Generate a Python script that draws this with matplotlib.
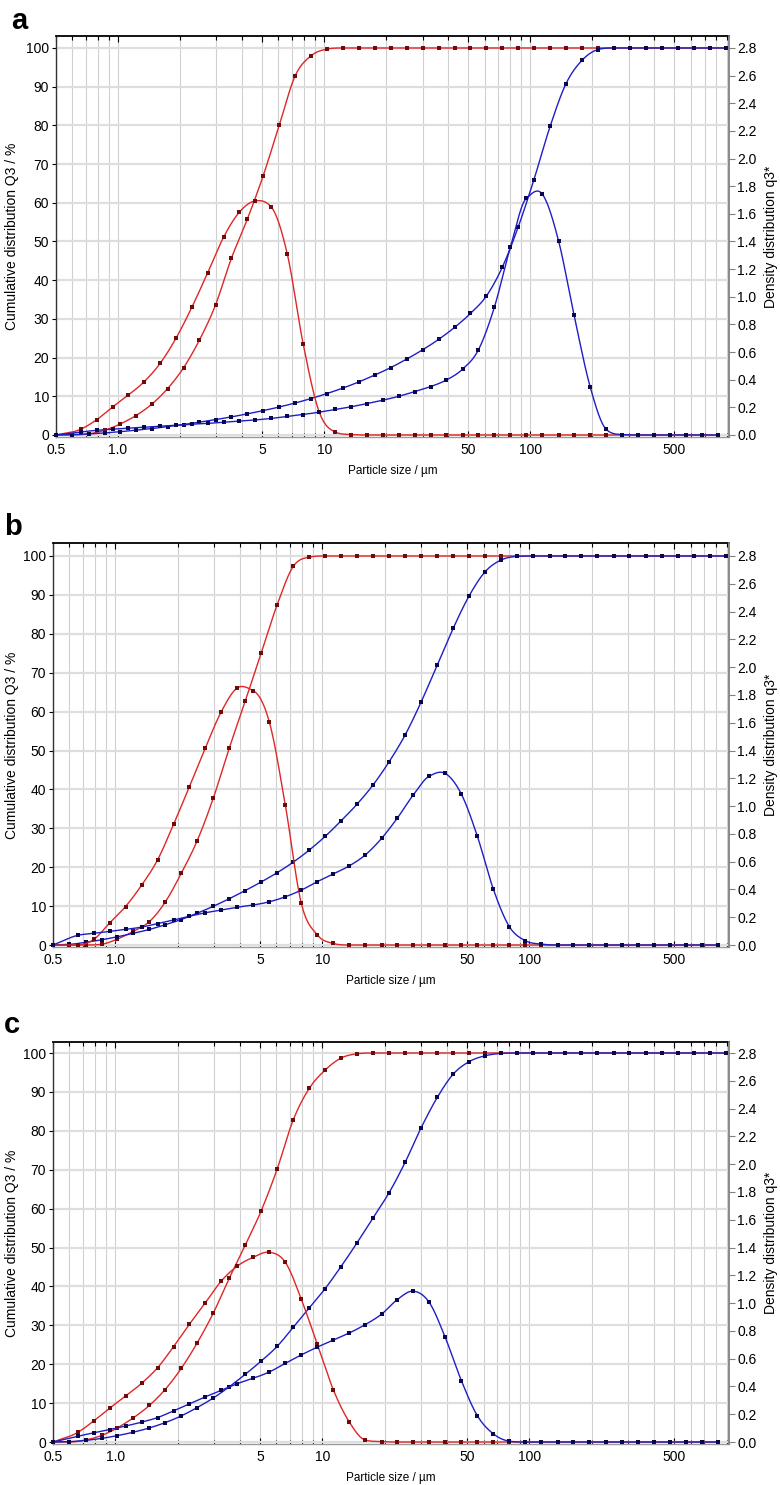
import numpy as np
import matplotlib
matplotlib.use("Agg")
import matplotlib.pyplot as plt
from matplotlib.ticker import FixedLocator, FixedFormatter, NullFormatter

plt.rcParams['font.family'] = ['Liberation Sans', 'DejaVu Sans']

# ---------------- data ----------------
# upper class limits (cumulative Q3) and class centres (density q3*), in µm
size_Q3 = [0.5, 0.6, 0.72, 0.86, 1.02, 1.22, 1.46, 1.74, 2.08, 2.48,
           2.97, 3.55, 4.24, 5.06, 6.05, 7.23, 8.64, 10.3, 12.3, 14.7,
           17.6, 21.0, 25.1, 30.0, 35.9, 42.9, 51.2, 61.2, 73.2, 87.4,
           104, 125, 149, 178, 213, 255, 304, 364, 435, 519,
           621, 742, 886]
size_q3 = [0.5, 0.66, 0.79, 0.94, 1.12, 1.34, 1.60, 1.91, 2.28, 2.72,
           3.25, 3.88, 4.64, 5.54, 6.62, 7.91, 9.45, 11.3, 13.5, 16.1,
           19.3, 23.0, 27.5, 32.8, 39.2, 46.9, 56.0, 66.9, 80.0, 95.6,
           114, 137, 163, 195, 233, 279, 333, 398, 475, 568,
           679, 811]

# panel a
a_red_Q3 = [0, 0, 0.3, 1.2, 2.8, 5.0, 8.0, 12.0, 17.4, 24.5,
            33.6, 45.7, 55.8, 67.0, 80.0, 92.8, 98.0, 99.7, 100, 100,
            100, 100, 100, 100, 100, 100, 100, 100, 100, 100,
            100, 100, 100, 100, 100, 100, 100, 100, 100, 100,
            100, 100, 100]
a_red_q3 = [0, 0.042, 0.112, 0.202, 0.288, 0.386, 0.518, 0.700, 0.924, 1.173,
            1.431, 1.613, 1.694, 1.649, 1.310, 0.658, 0.168, 0.022, 0.003, 0,
            0, 0, 0, 0, 0, 0, 0, 0, 0, 0,
            0, 0, 0, 0, 0, 0, 0, 0, 0, 0,
            0, 0]
a_blue_Q3 = [0, 0.1, 0.27, 0.53, 0.85, 1.24, 1.67, 2.17, 2.71, 3.32,
             3.97, 4.68, 5.46, 6.3, 7.23, 8.27, 9.42, 10.7, 12.1, 13.7,
             15.5, 17.4, 19.6, 22.0, 24.7, 27.8, 31.4, 35.9, 43.4, 53.8,
             65.9, 79.9, 90.8, 96.8, 99.6, 100, 100, 100, 100, 100,
             100, 100, 100]
a_blue_q3 = [0, 0.022, 0.034, 0.042, 0.050, 0.056, 0.064, 0.070, 0.078, 0.084,
             0.092, 0.101, 0.109, 0.120, 0.134, 0.148, 0.165, 0.185, 0.204, 0.227,
             0.252, 0.280, 0.314, 0.350, 0.398, 0.476, 0.616, 0.924, 1.358, 1.712,
             1.745, 1.406, 0.868, 0.350, 0.042, 0.003, 0, 0, 0, 0,
             0, 0]

# panel b
b_red_Q3 = [0, 0, 0, 0.2, 1.5, 3.5, 6.0, 11.0, 18.4, 26.7,
            37.7, 50.6, 62.7, 75.0, 87.5, 97.3, 99.7, 100, 100, 100,
            100, 100, 100, 100, 100, 100, 100, 100, 100, 100,
            100, 100, 100, 100, 100, 100, 100, 100, 100, 100,
            100, 100, 100]
b_red_q3 = [0, 0, 0.042, 0.160, 0.277, 0.431, 0.613, 0.868, 1.140, 1.417,
            1.680, 1.850, 1.830, 1.607, 1.008, 0.300, 0.073, 0.011, 0, 0,
            0, 0, 0, 0, 0, 0, 0, 0, 0, 0,
            0, 0, 0, 0, 0, 0, 0, 0, 0, 0,
            0, 0]
b_blue_Q3 = [0, 0.15, 0.7, 1.35, 2.1, 3.0, 4.0, 5.2, 6.55, 8.15,
             9.95, 11.9, 14.0, 16.2, 18.6, 21.3, 24.4, 27.9, 31.9, 36.2,
             41.2, 47.1, 54.0, 62.5, 72.0, 81.5, 89.8, 96.0, 99.0, 99.9,
             100, 100, 100, 100, 100, 100, 100, 100, 100, 100,
             100, 100, 100]
b_blue_q3 = [0, 0.070, 0.084, 0.098, 0.112, 0.129, 0.154, 0.179, 0.207, 0.232,
             0.252, 0.272, 0.288, 0.311, 0.347, 0.395, 0.456, 0.512, 0.570, 0.648,
             0.767, 0.913, 1.081, 1.215, 1.235, 1.086, 0.784, 0.403, 0.132, 0.031,
             0.006, 0, 0, 0, 0, 0, 0, 0, 0, 0,
             0, 0]

# panel c
c_red_Q3 = [0, 0, 0.54, 1.7, 3.6, 6.2, 9.4, 13.5, 18.9, 25.4,
            33.1, 42.1, 50.6, 59.4, 70.2, 82.8, 90.9, 95.6, 98.7, 99.8,
            100, 100, 100, 100, 100, 100, 100, 100, 100, 100,
            100, 100, 100, 100, 100, 100, 100, 100, 100, 100,
            100, 100, 100]
c_red_q3 = [0, 0.070, 0.154, 0.244, 0.330, 0.423, 0.535, 0.686, 0.848, 1.002,
            1.159, 1.266, 1.330, 1.366, 1.294, 1.028, 0.703, 0.375, 0.143, 0.014,
            0.003, 0, 0, 0, 0, 0, 0, 0, 0, 0,
            0, 0, 0, 0, 0, 0, 0, 0, 0, 0,
            0, 0]
c_blue_Q3 = [0, 0.1, 0.42, 0.94, 1.63, 2.52, 3.62, 4.98, 6.71, 8.83,
             11.3, 14.2, 17.4, 20.8, 24.6, 29.5, 34.5, 39.4, 45.1, 51.2,
             57.7, 64.1, 71.9, 80.8, 88.6, 94.6, 97.8, 99.3, 99.9, 100,
             100, 100, 100, 100, 100, 100, 100, 100, 100, 100,
             100, 100, 100]
c_blue_q3 = [0, 0.042, 0.067, 0.090, 0.115, 0.143, 0.176, 0.224, 0.274, 0.325,
             0.372, 0.420, 0.459, 0.504, 0.566, 0.627, 0.683, 0.734, 0.785, 0.845,
             0.920, 1.025, 1.086, 1.005, 0.753, 0.442, 0.190, 0.059, 0.006, 0,
             0, 0, 0, 0, 0, 0, 0, 0, 0, 0,
             0, 0]

x_major = [0.5, 1.0, 5, 10, 50, 100, 500]
x_major_labels = ['0.5', '1.0', '5', '10', '50', '100', '500']
x_minor = [0.6, 0.7, 0.8, 0.9, 2, 3, 4, 6, 7, 8, 9, 20, 30, 40, 60, 70, 80, 90,
           200, 300, 400, 600, 700, 800, 900]
Q3_ticks = list(range(0, 101, 10))
q3_ticks = [0.0, 0.2, 0.4, 0.6, 0.8, 1.0, 1.2, 1.4, 1.6, 1.8, 2.0, 2.2, 2.4, 2.6, 2.8]
panel_letters = ['a', 'b', 'c']

# ---------------- helpers ----------------
def smooth_interp(x, y, xn):
    """Cubic Hermite with centred slopes, limited to avoid overshoot on flat parts."""
    x = np.asarray(x, float); y = np.asarray(y, float)
    h = np.diff(x); d = np.diff(y) / h
    m = np.zeros_like(y)
    for k in range(1, len(x) - 1):
        a, c = d[k - 1], d[k]
        if a == 0 or c == 0:
            m[k] = 0.0
            continue
        cen = (a * h[k] + c * h[k - 1]) / (h[k - 1] + h[k])
        if a * c > 0:
            lim = 3 * min(abs(a), abs(c))
            cen = np.sign(cen) * min(abs(cen), lim)
        m[k] = cen
    m[0] = d[0]; m[-1] = d[-1]
    idx = np.clip(np.searchsorted(x, xn) - 1, 0, len(x) - 2)
    t = (xn - x[idx]) / h[idx]
    h00 = 2 * t**3 - 3 * t**2 + 1; h10 = t**3 - 2 * t**2 + t
    h01 = -2 * t**3 + 3 * t**2; h11 = t**3 - t**2
    return h00 * y[idx] + h10 * h[idx] * m[idx] + h01 * y[idx + 1] + h11 * h[idx] * m[idx + 1]


def draw_curve(ax, xs, ys, lc, mc, ms):
    lx = np.log10(xs)
    dense = np.linspace(lx[0], lx[-1], 2000)
    ax.plot(10**dense, smooth_interp(lx, ys, dense), color=lc, lw=1.0, zorder=3)
    ax.plot(xs, ys, 's', ms=ms, color=mc, mec=mc, mew=0, zorder=4, clip_on=False)


RED_L, RED_M = '#e02626', '#6e0b0b'
BLUE_L, BLUE_M = '#1e1ec8', '#08084a'
W, H = 780.0, 1485.0

fig = plt.figure(figsize=(7.8, 14.85), dpi=100)

panels = [
    dict(box=(56, 36, 729, 437), ylim=(-0.52, 103.1), letter_xy=(11, 21),
         data=(a_red_Q3, a_red_q3, a_blue_Q3, a_blue_q3)),
    dict(box=(53, 543, 729, 947), ylim=(-0.51, 103.34), letter_xy=(4, 527),
         data=(b_red_Q3, b_red_q3, b_blue_Q3, b_blue_q3)),
    dict(box=(53, 1042, 729, 1444), ylim=(-0.51, 102.83), letter_xy=(4, 1025),
         data=(c_red_Q3, c_red_q3, c_blue_Q3, c_blue_q3)),
]

for p, letter in zip(panels, panel_letters):
    l, t, r, b = p['box']
    ax = fig.add_axes([l / W, 1 - b / H, (r - l) / W, (b - t) / H])
    ax.set_xscale('log')
    ax.set_xlim(0.5, 920)
    ax.set_ylim(*p['ylim'])
    ax2 = ax.twinx()
    ax2.set_ylim(p['ylim'][0] * 0.028, p['ylim'][1] * 0.028)

    ax.xaxis.set_major_locator(FixedLocator(x_major))
    ax.xaxis.set_major_formatter(FixedFormatter(x_major_labels))
    ax.xaxis.set_minor_locator(FixedLocator(x_minor))
    ax.xaxis.set_minor_formatter(NullFormatter())
    ax.yaxis.set_major_locator(FixedLocator(Q3_ticks))
    ax2.yaxis.set_major_locator(FixedLocator(q3_ticks))
    ax2.yaxis.set_major_formatter(FixedFormatter(['%.1f' % v for v in q3_ticks]))

    ax.grid(True, axis='x', which='both', color='#d0d0d0', lw=0.8, zorder=0)
    ax.grid(True, axis='y', which='major', color='#dedede', lw=1.6, zorder=0)
    ax.set_axisbelow(True)

    ax.tick_params(axis='x', which='major', direction='in', top=True, bottom=True,
                   length=4, width=0.8, labelsize=10, pad=4)
    ax.tick_params(axis='x', which='minor', direction='in', top=True, bottom=True,
                   length=3, width=0.8)
    ax.tick_params(axis='y', direction='out', length=3, width=0.8, labelsize=10, pad=2)
    ax2.tick_params(axis='y', direction='out', length=4, width=0.8, labelsize=10,
                    pad=2, color='#808080')

    ax.spines['top'].set_color('black'); ax.spines['top'].set_linewidth(1.3)
    ax.spines['left'].set_color('#333333'); ax.spines['left'].set_linewidth(1.0)
    ax.spines['bottom'].set_color('#9a9a9a'); ax.spines['bottom'].set_linewidth(1.0)
    ax.spines['right'].set_visible(False)
    for s in ('top', 'left', 'bottom'):
        ax2.spines[s].set_visible(False)
    ax2.spines['right'].set_color('#808080'); ax2.spines['right'].set_linewidth(1.3)

    rQ, rq, bQ, bq = p['data']
    draw_curve(ax, size_Q3, rQ, RED_L, RED_M, 2.5)
    draw_curve(ax, size_Q3, bQ, BLUE_L, BLUE_M, 2.5)
    draw_curve(ax2, size_q3, rq, RED_L, RED_M, 2.5)
    draw_curve(ax2, size_q3, bq, BLUE_L, BLUE_M, 2.5)

    yc = 1 - ((t + b) / 2) / H
    fig.text(12 / W, yc, 'Cumulative distribution Q3 / %', rotation=90,
             ha='center', va='center', fontsize=10)
    fig.text(771 / W, yc, 'Density distribution q3*', rotation=90,
             ha='center', va='center', fontsize=10)
    fig.text(((l + r) / 2) / W, 1 - (b + 34) / H, 'Particle size / µm',
             ha='center', va='center', fontsize=8.5)
    lx, ly = p['letter_xy']
    fig.text(lx / W, 1 - ly / H, letter, ha='left', va='center',
             fontsize=21, fontweight='bold')

fig.savefig('out.png', dpi=100)
